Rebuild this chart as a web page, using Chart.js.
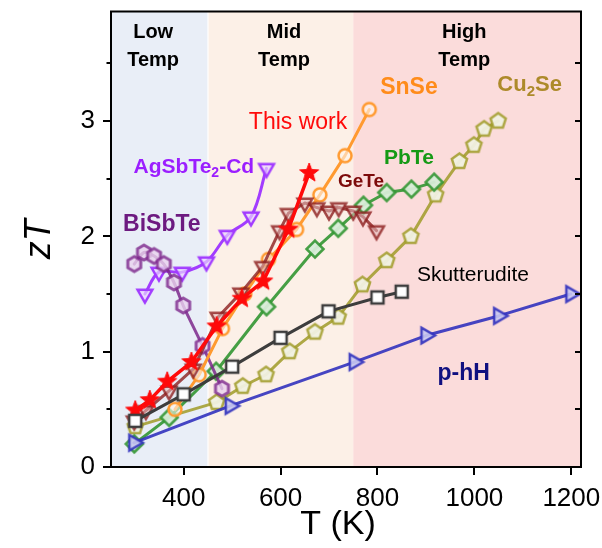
<!DOCTYPE html>
<html>
<head>
<meta charset="utf-8">
<script src="https://cdn.jsdelivr.net/npm/chart.js@4/dist/chart.umd.min.js"></script>
<style>
  html, body { margin: 0; padding: 0; background: #ffffff; }
  canvas { display: block; }
</style>
</head>
<body>
<canvas id="c" width="602" height="548"></canvas>
<script>
// ---- data: temperature (K) and zT for each material ----
const thisWorkT  = [300, 330, 366, 416, 468, 520, 564, 616, 659];
const thisWorkZT = [0.49, 0.58, 0.74, 0.91, 1.22, 1.46, 1.61, 2.06, 2.55];

const geteT  = [298, 322, 370, 420, 471, 518, 563, 598, 616, 650, 675, 700, 720, 750, 770, 798];
const geteZT = [0.40, 0.49, 0.66, 0.85, 1.30, 1.51, 1.74, 2.05, 2.20, 2.29, 2.25, 2.22, 2.25, 2.22, 2.17, 2.05];

const snseT  = [382, 432, 480, 526, 575, 633, 681, 733, 783];
const snseZT = [0.50, 0.80, 1.20, 1.50, 1.80, 2.06, 2.36, 2.70, 3.10];

const pbteT  = [298, 370, 467, 571, 671, 719, 771, 819, 870, 917];
const pbteZT = [0.20, 0.43, 0.83, 1.39, 1.89, 2.07, 2.27, 2.38, 2.41, 2.47];

const cu2seT  = [300, 468, 522, 570, 619, 671, 719, 769, 819, 869, 920, 969, 999, 1020, 1049];
const cu2seZT = [0.35, 0.56, 0.70, 0.80, 1.00, 1.17, 1.30, 1.58, 1.79, 2.00, 2.36, 2.65, 2.79, 2.93, 3.00];

const skuttT  = [300, 400, 500, 600, 699, 800, 850];
const skuttZT = [0.40, 0.63, 0.87, 1.12, 1.35, 1.47, 1.52];

const phhT  = [297, 496, 752, 900, 1050, 1199];
const phhZT = [0.21, 0.53, 0.91, 1.14, 1.31, 1.50];

const agsbteT  = [320, 349, 397, 447, 490, 539, 571];
const agsbteZT = [1.50, 1.69, 1.69, 1.78, 2.01, 2.17, 2.59];

const bisbteT  = [298, 318, 339, 359, 380, 399, 439, 479];
const bisbteZT = [1.76, 1.86, 1.83, 1.76, 1.60, 1.40, 1.05, 0.68];

// ---- axes ----
const xTicks = [400, 600, 800, 1000, 1200];
const yTicks = [0, 0.5, 1, 1.5, 2, 2.5, 3, 3.5];
const xRange = [250, 1220];
const yRange = [0, 3.95];

// temperature bands: edges (K), headings
const bandEdges = [250, 450, 750, 1220];
const bandHeads = [['Low', 'Temp'], ['Mid', 'Temp'], ['High', 'Temp']];
const bandColors = ['#e9eef7', '#fcf0e7', '#fbdcdb'];

const FONT = "'Liberation Sans', Arial, Helvetica, sans-serif";

// ---- marker sprites ----
function polyPath(g, n, r, rot) {
  for (let k = 0; k < n; k++) {
    const a = rot + k * 2 * Math.PI / n;
    const px = r * Math.cos(a), py = r * Math.sin(a);
    if (k === 0) g.moveTo(px, py); else g.lineTo(px, py);
  }
}
const shapes = {
  star(g, r) {
    for (let k = 0; k < 10; k++) {
      const a = -Math.PI / 2 + k * Math.PI / 5;
      const rr = k % 2 ? r * 0.42 : r;
      const px = rr * Math.cos(a), py = rr * Math.sin(a);
      if (k === 0) g.moveTo(px, py); else g.lineTo(px, py);
    }
  },
  triDown(g, r) { polyPath(g, 3, r, Math.PI / 2); },
  triRight(g, r) { polyPath(g, 3, r, 0); },
  pentagon(g, r) { polyPath(g, 5, r, -Math.PI / 2); },
  hexagon(g, r) { polyPath(g, 6, r, -Math.PI / 2); },
  diamond(g, r) { polyPath(g, 4, r, 0); },
  square(g, r) { polyPath(g, 4, r, Math.PI / 4); },
  circle(g, r) { g.arc(0, 0, r, 0, 2 * Math.PI); }
};
function sprite(shape, r, stroke, fill, lw) {
  const pad = lw + 2;
  const s = Math.ceil(2 * r + 2 * pad);
  const c = document.createElement('canvas');
  c.width = s; c.height = s;
  const g = c.getContext('2d');
  g.translate(s / 2, s / 2);
  g.beginPath();
  shapes[shape](g, r);
  g.closePath();
  if (fill) { g.fillStyle = fill; g.fill(); }
  if (lw) { g.lineWidth = lw; g.strokeStyle = stroke; g.lineJoin = 'miter'; g.stroke(); }
  return c;
}

function pts(xs, ys) { return xs.map((x, i) => ({ x: x, y: ys[i] })); }

function series(label, xs, ys, color, width, marker, extra) {
  return Object.assign({
    label: label,
    data: pts(xs, ys),
    borderColor: color,
    borderWidth: width,
    pointStyle: marker,
    pointRadius: 8,
    tension: 0,
    fill: false,
    borderJoinStyle: 'round',
    borderCapStyle: 'round'
  }, extra || {});
}

// listed from front to back
const datasets = [
  series('Skutterudite', skuttT, skuttZT, '#3d3d3d', 3,
         sprite('square', 8.5, '#3d3d3d', '#ffffff', 2.5)),
  series('This work', thisWorkT, thisWorkZT, '#ff0a0a', 3.5,
         sprite('star', 10, '#ff0a0a', '#ff0a0a', 1)),
  series('GeTe', geteT, geteZT, 'rgba(140,30,30,0.8)', 3,
         sprite('triDown', 8.5, 'rgba(140,30,30,0.8)', 'rgba(225,190,190,0.55)', 2.5)),
  series('SnSe', snseT, snseZT, '#ff9a30', 3,
         sprite('circle', 6.5, '#ff9a30', 'rgba(255,246,236,0.6)', 2.5)),
  series('BiSbTe', bisbteT, bisbteZT, 'rgba(125,40,140,0.85)', 3,
         sprite('hexagon', 7.5, 'rgba(125,40,140,0.8)', 'rgba(232,210,238,0.8)', 3),
         { tension: 0.3 }),
  series('AgSbTe2-Cd', agsbteT, agsbteZT, '#a23cff', 3,
         sprite('triDown', 8.5, '#a23cff', 'rgba(232,212,255,0.7)', 2.5),
         { tension: 0.35 }),
  series('p-hH', phhT, phhZT, 'rgba(50,50,190,0.9)', 3,
         sprite('triRight', 9, 'rgba(50,50,190,0.9)', 'rgba(200,200,240,0.9)', 2.5)),
  series('PbTe', pbteT, pbteZT, 'rgba(50,150,50,0.9)', 3,
         sprite('diamond', 8.5, 'rgba(50,150,50,0.9)', 'rgba(215,236,215,0.95)', 2.5)),
  series('Cu2Se', cu2seT, cu2seZT, 'rgba(160,155,40,0.85)', 3,
         sprite('pentagon', 8, 'rgba(160,155,40,0.85)', 'rgba(240,240,225,0.95)', 2.5))
];
datasets.forEach((d, i) => { d.order = i; });

// in-plot labels, anchored in data coordinates (T, zT)
const seriesLabels = [
  { parts: [['SnSe']], at: [865, 3.29], color: '#ff8c1a', size: 23, bold: true },
  { parts: [['Cu'], ['2', 1], ['Se']], at: [1114, 3.31], color: '#ad8a2a', size: 22, bold: true },
  { parts: [['This work']], at: [636, 2.99], color: '#ff0a0a', size: 23, bold: false },
  { parts: [['AgSbTe'], ['2', 1], ['-Cd']], at: [421, 2.60], color: '#9b1eff', size: 21, bold: true },
  { parts: [['BiSbTe']], at: [355, 2.10], color: '#6d1a80', size: 23, bold: true },
  { parts: [['GeTe']], at: [766, 2.47], color: '#7c0a0a', size: 19, bold: true },
  { parts: [['PbTe']], at: [865, 2.68], color: '#159a15', size: 21, bold: true },
  { parts: [['Skutterudite']], at: [997, 1.66], color: '#000000', size: 21, bold: false },
  { parts: [['p-hH']], at: [978, 0.81], color: '#101080', size: 23, bold: true }
];

function drawRich(ctx, parts, cx, cy, size, bold, color) {
  const main = (bold ? 'bold ' : '') + size + 'px ' + FONT;
  const sub = (bold ? 'bold ' : '') + Math.round(size * 0.66) + 'px ' + FONT;
  let total = 0;
  const widths = parts.map(p => {
    ctx.font = p[1] ? sub : main;
    const w = ctx.measureText(p[0]).width;
    total += w;
    return w;
  });
  let x = cx - total / 2;
  ctx.fillStyle = color;
  ctx.textAlign = 'left';
  ctx.textBaseline = 'middle';
  parts.forEach((p, i) => {
    ctx.font = p[1] ? sub : main;
    ctx.fillText(p[0], x, p[1] ? cy + size * 0.3 : cy);
    x += widths[i];
  });
}

const decor = {
  id: 'decor',
  beforeDatasetsDraw(chart) {
    const { ctx, chartArea: a, scales: { x } } = chart;
    ctx.save();
    for (let i = 0; i < bandColors.length; i++) {
      const x0 = x.getPixelForValue(bandEdges[i]);
      const x1 = x.getPixelForValue(bandEdges[i + 1]);
      ctx.fillStyle = bandColors[i];
      ctx.fillRect(x0, a.top, x1 - x0, a.bottom - a.top);
    }
    // thin light divider after the low-temperature band
    const xd = x.getPixelForValue(bandEdges[1]);
    ctx.fillStyle = 'rgba(255,255,255,0.9)';
    ctx.fillRect(xd - 0.5, a.top, 1.2, a.bottom - a.top);
    ctx.restore();
  },
  afterDraw(chart) {
    const { ctx, chartArea: a, scales: { x, y } } = chart;
    ctx.save();
    ctx.strokeStyle = '#000';
    ctx.lineWidth = 2;
    // frame
    ctx.strokeRect(a.left, a.top, a.right - a.left, a.bottom - a.top);
    // tick marks
    ctx.beginPath();
    xTicks.forEach(v => {
      const px = Math.round(x.getPixelForValue(v));
      ctx.moveTo(px, a.bottom); ctx.lineTo(px, a.bottom + 8);
    });
    yTicks.forEach(v => {
      const py = Math.round(y.getPixelForValue(v));
      const len = Number.isInteger(v) ? 8 : 4.5;
      ctx.moveTo(a.left, py); ctx.lineTo(a.left - len, py);
      ctx.moveTo(a.right, py); ctx.lineTo(a.right - 6, py);
    });
    ctx.stroke();

    // band headings
    ctx.fillStyle = '#000';
    ctx.textAlign = 'center';
    ctx.textBaseline = 'middle';
    ctx.font = 'bold 20px ' + FONT;
    const headX = [337, 607, 979];
    bandHeads.forEach((h, i) => {
      const px = x.getPixelForValue(headX[i]);
      ctx.fillText(h[0], px, a.top + 21);
      ctx.fillText(h[1], px, a.top + 49);
    });

    // series labels
    seriesLabels.forEach(l => {
      drawRich(ctx, l.parts, x.getPixelForValue(l.at[0]), y.getPixelForValue(l.at[1]),
               l.size, l.bold, l.color);
    });

    // axis titles
    ctx.fillStyle = '#000';
    ctx.textAlign = 'center';
    ctx.textBaseline = 'middle';
    ctx.font = '34px ' + FONT;
    ctx.fillText('T (K)', (a.left + a.right) / 2 - 8, 525);
    ctx.save();
    ctx.translate(40, (a.top + a.bottom) / 2);
    ctx.rotate(-Math.PI / 2);
    ctx.font = 'italic 36px ' + FONT;
    ctx.fillText('zT', 0, 0);
    ctx.restore();
    ctx.restore();
  }
};

new Chart(document.getElementById('c'), {
  type: 'line',
  data: { datasets: datasets },
  plugins: [decor],
  options: {
    responsive: false,
    animation: false,
    devicePixelRatio: 1,
    events: [],
    layout: { padding: { left: 0, right: 21, top: 9, bottom: 0 } },
    plugins: { legend: { display: false }, tooltip: { enabled: false } },
    scales: {
      x: {
        type: 'linear',
        min: xRange[0], max: xRange[1],
        afterBuildTicks: s => { s.ticks = xTicks.map(v => ({ value: v })); },
        afterFit: s => { s.height = 81; s.paddingLeft = 0; s.paddingRight = 0; },
        grid: { color: 'transparent', drawOnChartArea: false, tickLength: 8 },
        border: { display: false },
        ticks: { font: { family: FONT, size: 26 }, color: '#000', padding: 8,
                 maxRotation: 0, autoSkip: false,
                 callback: v => String(v) }
      },
      y: {
        type: 'linear',
        min: yRange[0], max: yRange[1],
        afterBuildTicks: s => { s.ticks = yTicks.map(v => ({ value: v })); },
        afterFit: s => { s.width = 111; s.paddingTop = 0; s.paddingBottom = 0; },
        grid: { color: 'transparent', drawOnChartArea: false, tickLength: 8 },
        border: { display: false },
        ticks: { font: { family: FONT, size: 26 }, color: '#000', padding: 8,
                 autoSkip: false,
                 callback: v => Number.isInteger(v) ? String(v) : '' }
      }
    }
  }
});
</script>
</body>
</html>
